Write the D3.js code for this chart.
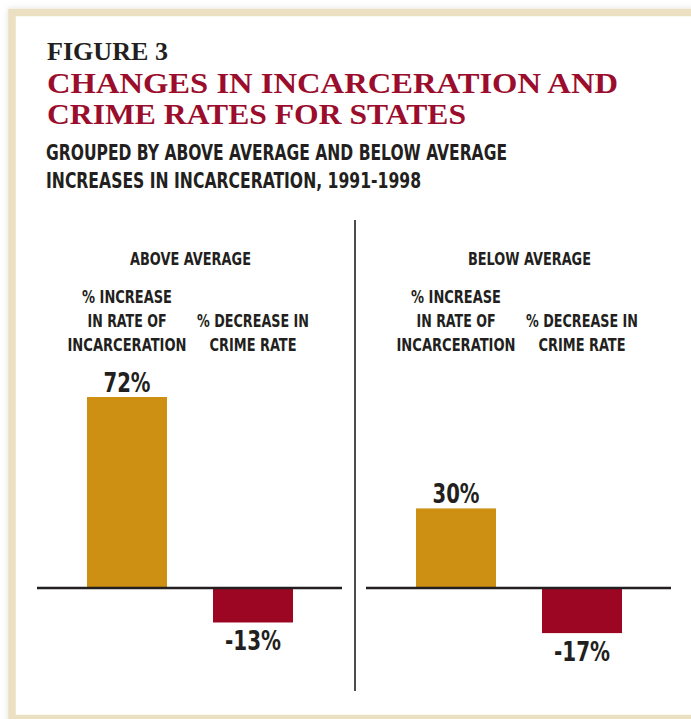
<!DOCTYPE html>
<html>
<head>
<meta charset="utf-8">
<script src="https://cdn.jsdelivr.net/npm/d3@7/dist/d3.min.js"></script>
<style>
  html, body { margin: 0; padding: 0; background: #ffffff; }
  svg { display: block; }
</style>
</head>
<body>
<svg id="chart" width="691" height="719"></svg>
<script>
// ---------------- DATA ----------------
const figureLabel = "FIGURE 3";
const titleLines = ["CHANGES IN INCARCERATION AND", "CRIME RATES FOR STATES"];
const subtitleLines = ["GROUPED BY ABOVE AVERAGE AND BELOW AVERAGE", "INCREASES IN INCARCERATION, 1991-1998"];
const groups = ["ABOVE AVERAGE", "BELOW AVERAGE"];
const categories = ["incarceration", "crime"];
const categoryLabelLines = [["% INCREASE", "IN RATE OF", "INCARCERATION"], ["% DECREASE IN", "CRIME RATE"]];
const incarcerationIncrease = [72, 30];   // % increase in rate of incarceration
const crimeRateChange = [-13, -17];       // % change in crime rate

// ---------------- LAYOUT ----------------
const W = 691, H = 719;
const C = {
  dark: "#231f20",
  title: "#9b0d2c",
  gold: "#ce9013",
  red: "#9d0623",
  beige: "#ebe0c2"
};
const serif = "'Liberation Serif', 'DejaVu Serif', serif";
const cond = "'Liberation Sans Narrow', 'DejaVu Sans Condensed', 'Roboto Condensed', 'Liberation Sans', sans-serif";

const svg = d3.select("#chart");

// soft shadow + frame
const defs = svg.append("defs");
const f = defs.append("filter").attr("id", "sh").attr("x", "-5%").attr("y", "-5%").attr("width", "110%").attr("height", "110%");
f.append("feDropShadow").attr("dx", 0).attr("dy", 0).attr("stdDeviation", 3)
  .attr("flood-color", "#000").attr("flood-opacity", 0.12);

svg.append("rect")
  .attr("x", 12).attr("y", 12.5).attr("width", W + 20).attr("height", 706)
  .attr("fill", "#ffffff").attr("stroke", C.beige).attr("stroke-width", 7.5)
  .attr("filter", "url(#sh)");

// helper for fitted text
function fitText(sel, txt, x, y, width, opts) {
  const t = sel.append("text")
    .attr("x", x).attr("y", y)
    .attr("font-family", opts.family)
    .attr("font-size", opts.size)
    .attr("font-weight", opts.weight || "bold")
    .attr("fill", opts.fill || C.dark)
    .attr("text-anchor", opts.anchor || "start")
    .text(txt);
  if (width) t.attr("textLength", width).attr("lengthAdjust", "spacingAndGlyphs");
  return t;
}

// header
fitText(svg, figureLabel, 47, 60, 121, { family: serif, size: 26, fill: C.dark });
const titleW = [571, 419];
titleLines.forEach((l, i) => fitText(svg, l, 47, 92.5 + i * 31, titleW[i], { family: serif, size: 30, fill: C.title }));
const subW = [461, 375];
subtitleLines.forEach((l, i) => fitText(svg, l, 46, 159.5 + i * 28, subW[i], { family: cond, size: 22, weight: "bold", fill: C.dark }));

// divider
svg.append("line").attr("x1", 355).attr("x2", 355).attr("y1", 220).attr("y2", 691)
  .attr("stroke", C.dark).attr("stroke-width", 1.6);

// scales
const y = d3.scaleLinear().domain([0, 72]).range([588, 397]);
const panelOffset = [0, 329];
const panelAxis = [[37, 342], [366, 671]];
const groupTitleX = [190.5, 529.5];
const groupTitleW = [121, 123];

const catLineW = [[90, 79, 119], [112, 87]];
const valW = { "72%": 47, "30%": 47, "-13%": 56, "-17%": 56 };

groups.forEach((g, gi) => {
  const x = d3.scaleBand().domain(categories)
    .range([87 + panelOffset[gi], 293 + panelOffset[gi]])
    .paddingInner(46 / 126).paddingOuter(0);
  const panel = svg.append("g");
  const vals = [incarcerationIncrease[gi], crimeRateChange[gi]];

  // group title
  fitText(panel, g, groupTitleX[gi], 265, groupTitleW[gi], { family: cond, size: 18, anchor: "middle" });

  // category labels (bottom-aligned)
  categories.forEach((c, ci) => {
    const lines = categoryLabelLines[ci];
    const cx = x(c) + x.bandwidth() / 2;
    lines.forEach((l, li) => {
      const yy = 351 - (lines.length - 1 - li) * 24;
      fitText(panel, l, cx, yy, catLineW[ci][li], { family: cond, size: 18, anchor: "middle" });
    });
  });

  // bars
  panel.selectAll("rect.bar").data(vals).join("rect")
    .attr("class", "bar")
    .attr("x", (d, i) => x(categories[i]))
    .attr("width", x.bandwidth())
    .attr("y", d => Math.min(y(d), y(0)))
    .attr("height", d => Math.abs(y(d) - y(0)))
    .attr("fill", d => d >= 0 ? C.gold : C.red);

  // value labels
  vals.forEach((d, i) => {
    const lbl = d + "%";
    const cx = x(categories[i]) + x.bandwidth() / 2;
    const yy = d >= 0 ? y(d) - 5 : y(d) + 28;
    fitText(panel, lbl, cx, yy, valW[lbl], { family: cond, size: 26.5, anchor: "middle" });
  });

  // zero line
  panel.append("line")
    .attr("x1", panelAxis[gi][0]).attr("x2", panelAxis[gi][1])
    .attr("y1", y(0)).attr("y2", y(0))
    .attr("stroke", C.dark).attr("stroke-width", 2.6);
});
</script>
</body>
</html>
